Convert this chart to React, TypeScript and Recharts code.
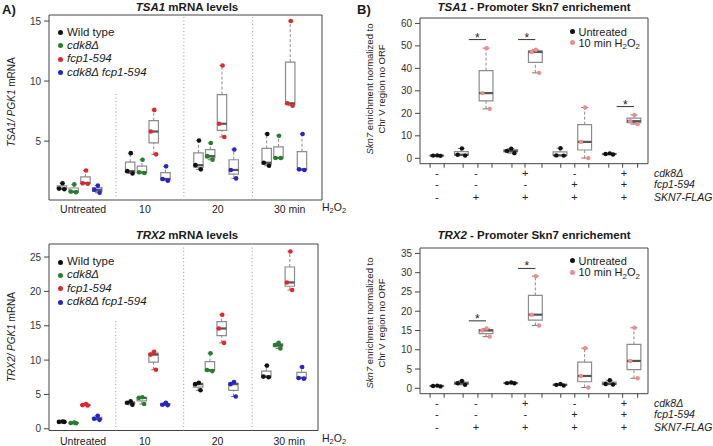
import React from 'react'
import { ScatterChart, Scatter, XAxis, YAxis, ReferenceArea, ReferenceLine } from 'recharts'

// ---------- A) mRNA levels: 3 replicates per strain and time point ----------
const timePoints = ['Untreated', '10', '20', '30 min']
const strains = ['Wild type', 'cdk8Δ', 'fcp1-594', 'cdk8Δ fcp1-594']

const tsa1WildType = [[1.5, 1.05, 1.0], [4.0, 2.5, 2.3], [5.05, 3.0, 2.65], [5.6, 3.2, 2.95]]
const tsa1Cdk8 = [[1.4, 0.8, 0.75], [3.45, 2.4, 2.35], [4.85, 3.75, 3.45], [5.45, 3.6, 3.6]]
const tsa1Fcp1 = [[2.55, 1.5, 1.45], [7.6, 5.8, 3.9], [11.3, 6.45, 5.35], [15.0, 8.15, 7.95]]
const tsa1Double = [[1.3, 0.95, 0.7], [2.9, 1.85, 1.7], [4.3, 2.6, 1.9], [5.6, 2.65, 2.6]]

const trx2WildType = [[1.05, 1.0, 1.0], [4.0, 3.8, 3.5], [6.7, 6.5, 5.6], [9.2, 7.6, 7.5]]
const trx2Cdk8 = [[0.9, 0.85, 0.8], [4.6, 4.5, 3.6], [11.0, 8.55, 8.4], [12.5, 12.2, 11.7]]
const trx2Fcp1 = [[3.6, 3.45, 3.4], [11.2, 10.8, 8.6], [16.6, 14.6, 12.5], [25.8, 21.3, 20.2]]
const trx2Double = [[1.9, 1.45, 1.3], [3.8, 3.5, 3.45], [6.8, 6.5, 4.7], [9.0, 7.4, 7.3]]

const tsa1Ticks = [5, 10, 15]
const trx2Ticks = [0, 5, 10, 15, 20, 25]

// ---------- B) Skn7 ChIP: untreated vs 10 min H2O2 ----------
const cdk8Row = ['-', '-', '+', '-', '+']
const fcp1Row = ['-', '-', '-', '+', '+']
const flagRow = ['-', '+', '+', '+', '+']
const rowNames = ['cdk8Δ', 'fcp1-594', 'SKN7-FLAG']

const tsa1ChipUntreated = [[1.3, 1.2, 1.1], [4.4, 1.6, 1.2], [4.3, 3.3, 2.3], [4.5, 1.3, 1.2], [2.2, 1.9, 1.7]]
const tsa1ChipH2O2 = [[], [49, 29, 22], [48.3, 47.3, 38], [22.6, 7.3, 0.1], [19.3, 16.5, 15.2]]
const tsa1Significant = [[1, 52.8], [2, 52.8], [4, 23]]

const trx2ChipUntreated = [[0.7, 0.6, 0.5], [1.9, 1.3, 0.9], [1.5, 1.35, 1.3], [1.1, 0.9, 0.7], [2.1, 1.1, 1.0]]
const trx2ChipH2O2 = [[], [15.5, 15.0, 13.4], [29.1, 19.1, 16.3], [10.4, 3.2, 0.2], [15.7, 7.1, 2.6]]
const trx2Significant = [[1, 17.5], [2, 31.1]]

const tsa1ChipTicks = [0, 10, 20, 30, 40, 50, 60]
const trx2ChipTicks = [0, 5, 10, 15, 20, 25, 30, 35]

// ---------- layout ----------
const FONT = '"Liberation Sans", Arial, Helvetica, sans-serif'
const strainColors = ['#111111', '#23802a', '#e3262a', '#2626c8']
const untreatedColor = '#111111'
const treatedColor = '#f08c8c'

const GAP = 5.8
const LABEL_X_A = [1.8, 7.05, 13.25, 19.35]
const SEP_X_A = [4.58, 10.36, 16.2]
const JITTER_A = [0.05, -0.25, 0.2]
const JITTER_B = [0.02, -0.15, 0.15]
const B_TICK_MARKS = [-0.27, 0.3, 1.07, 1.67, 2.24, 3.05, 3.58, 4.27, 5.03, 5.6, 6.17, 6.98, 7.54, 8.15]
const B_X_DOMAIN: [number, number] = [-0.68, 8.57]
const ROW_DY = [8.8, 20.5, 33]

function fivenum(values: number[]) {
  const x = [...values].sort((a, b) => a - b)
  const n = x.length
  const n4 = Math.floor((n + 3) / 2) / 2
  const d = [1, n4, (n + 1) / 2, n + 1 - n4, n]
  return d.map(di => 0.5 * (x[Math.floor(di) - 1] + x[Math.ceil(di) - 1]))
}

// R style box: dashed whiskers, staples, hinge box, thick median
function boxplot(id: string, x: number, values: number[], hw: number) {
  const [lo, q1, med, q3, hi] = fivenum(values)
  const wh = { stroke: '#8c8c8c', strokeWidth: 1, strokeDasharray: '3 2' }
  const st = { stroke: '#7a7a7a', strokeWidth: 1 }
  return [
    <ReferenceLine key={id + 'w1'} segment={[{ x, y: q3 }, { x, y: hi }]} {...wh} />,
    <ReferenceLine key={id + 'w2'} segment={[{ x, y: lo }, { x, y: q1 }]} {...wh} />,
    <ReferenceLine key={id + 's1'} segment={[{ x: x - hw / 2, y: hi }, { x: x + hw / 2, y: hi }]} {...st} />,
    <ReferenceLine key={id + 's2'} segment={[{ x: x - hw / 2, y: lo }, { x: x + hw / 2, y: lo }]} {...st} />,
    <ReferenceArea key={id + 'b'} x1={x - hw} x2={x + hw} y1={q1} y2={q3} fill="none" stroke="#8c8c8c" strokeWidth={1.2} />,
    <ReferenceLine key={id + 'm'} segment={[{ x: x - hw, y: med }, { x: x + hw, y: med }]} stroke="#555" strokeWidth={2.2} />,
  ]
}

const dot = (color: string, r: number) => (p: any) => <circle cx={p.cx} cy={p.cy} r={r} fill={color} />

function Txt({ x, y, size = 11, bold = false, italic = false, anchor = 'start', rotate = false, children }: any) {
  const tx = anchor === 'middle' ? '-50%' : anchor === 'end' ? '-100%' : '0'
  return (
    <div
      style={{
        position: 'absolute', left: x, top: y, fontSize: size, lineHeight: 1,
        fontWeight: bold ? 'bold' : 'normal', fontStyle: italic ? 'italic' : 'normal',
        color: '#1a1a1a', whiteSpace: 'nowrap',
        transform: rotate ? 'translate(-50%, -50%) rotate(-90deg)' : `translate(${tx}, -50%)`,
      }}
    >
      {children}
    </div>
  )
}

const Sub = ({ children }: any) => (
  <span style={{ fontSize: '0.72em', position: 'relative', top: '0.28em' }}>{children}</span>
)
const H2O2 = () => <>H<Sub>2</Sub>O<Sub>2</Sub></>

function Dot({ x, y, color }: any) {
  return (
    <div style={{ position: 'absolute', left: x - 2.5, top: y - 2.5, width: 5, height: 5, borderRadius: '50%', background: color }} />
  )
}

function MrnaPanel({ series, top, height, marginTop, right, axisH, labelDy, xMax, yDomain, yTicks, firstSepTop }: any) {
  const xDomain: [number, number] = [-1.1, xMax]
  return (
    <div style={{ position: 'absolute', left: 0, top }}>
      <ScatterChart width={360} height={height} margin={{ top: marginTop, right, bottom: 0, left: 0 }}>
        <XAxis
          type="number" dataKey="x" domain={xDomain} allowDataOverflow ticks={LABEL_X_A} interval={0}
          tickLine={false} axisLine={false} tickSize={0} tickMargin={0} height={axisH}
          tick={(p: any) => (
            <text x={p.x} y={p.y + labelDy} textAnchor="middle" dominantBaseline="central" fontSize={10.5} fill="#222">
              {timePoints[p.index]}
            </text>
          )}
        />
        <YAxis
          type="number" dataKey="y" domain={yDomain} allowDataOverflow ticks={yTicks} interval={0} width={49}
          axisLine={false} tickLine={{ stroke: '#444' }} tickSize={5} tickMargin={3}
          tick={{ fontSize: 10, fill: '#333' }}
        />
        <ReferenceArea x1={xDomain[0]} x2={xDomain[1]} y1={yDomain[0]} y2={yDomain[1]} fill="none" stroke="#444" ifOverflow="visible" />
        {SEP_X_A.map((sx, i) => (
          <ReferenceLine
            key={'sep' + i}
            segment={[{ x: sx, y: yDomain[0] }, { x: sx, y: i === 0 ? firstSepTop : yDomain[1] }]}
            stroke="#aaa" strokeWidth={1.2} strokeDasharray="1 2.5" ifOverflow="visible"
          />
        ))}
        {series.map((reps: number[][], s: number) =>
          reps.map((vals, g) => boxplot(`a${s}-${g}`, g * GAP + s, vals, 0.4))
        )}
        {series.map((reps: number[][], s: number) => (
          <Scatter
            key={'pts' + s}
            isAnimationActive={false}
            data={reps.flatMap((vals, g) => vals.map((v, i) => ({ x: g * GAP + s + JITTER_A[i], y: v })))}
            shape={dot(strainColors[s], 2.3)}
          />
        ))}
      </ScatterChart>
    </div>
  )
}

function ChipPanel({ untreated, treated, significant, top, height, marginTop, axisH, yDomain, yTicks }: any) {
  const blackX = (g: number) => (g === 0 ? 0 : 2 * g - 1)
  const pinkX = (g: number) => 2 * g
  const colX = (g: number) => (g === 0 ? 0.001 : 2 * g - 0.41)
  const cols = cdk8Row.map((_, g) => colX(g))
  const rows = [cdk8Row, fcp1Row, flagRow]
  return (
    <div style={{ position: 'absolute', left: 355, top }}>
      <ScatterChart width={358} height={height} margin={{ top: marginTop, right: 65, bottom: 0, left: 0 }}>
        <XAxis
          type="number" dataKey="x" domain={B_X_DOMAIN} allowDataOverflow ticks={[...B_TICK_MARKS, ...cols]} interval={0}
          tickLine={false} axisLine={false} tickSize={0} tickMargin={0} height={axisH}
          tick={(p: any) => {
            const g = cols.findIndex(c => Math.abs(c - p.payload.value) < 1e-9)
            if (g < 0) return <line x1={p.x} x2={p.x} y1={p.y} y2={p.y + 4} stroke="#444" />
            return (
              <g>
                {rows.map((r, i) => (
                  <text key={i} x={p.x} y={p.y + ROW_DY[i]} textAnchor="middle" dominantBaseline="central" fontSize={11} fill="#222">
                    {r[g]}
                  </text>
                ))}
              </g>
            )
          }}
        />
        <YAxis
          type="number" dataKey="y" domain={yDomain} allowDataOverflow ticks={yTicks} interval={0} width={65}
          axisLine={false} tickLine={{ stroke: '#444' }} tickSize={5} tickMargin={3}
          tick={{ fontSize: 10, fill: '#333' }}
        />
        <ReferenceArea x1={B_X_DOMAIN[0]} x2={B_X_DOMAIN[1]} y1={yDomain[0]} y2={yDomain[1]} fill="none" stroke="#444" ifOverflow="visible" />
        {untreated.map((vals: number[], g: number) => boxplot(`u${g}`, blackX(g), vals, 0.28))}
        {treated.map((vals: number[], g: number) => (vals.length ? boxplot(`t${g}`, pinkX(g), vals, 0.28) : null))}
        {significant.map(([g, h]: number[]) => (
          <ReferenceLine
            key={'sig' + g}
            segment={[{ x: blackX(g) + 0.3, y: h }, { x: blackX(g) + 1.0, y: h }]}
            stroke="#333" strokeWidth={1}
          />
        ))}
        <Scatter
          isAnimationActive={false}
          data={untreated.flatMap((vals: number[], g: number) => vals.map((v, i) => ({ x: blackX(g) + JITTER_B[i], y: v })))}
          shape={dot(untreatedColor, 2.2)}
        />
        <Scatter
          isAnimationActive={false}
          data={treated.flatMap((vals: number[], g: number) => vals.map((v, i) => ({ x: pinkX(g) + JITTER_B[i], y: v })))}
          shape={dot(treatedColor, 2.2)}
        />
        <Scatter
          isAnimationActive={false}
          data={significant.map(([g, h]: number[]) => ({ x: blackX(g) + 0.65, y: h }))}
          shape={(p: any) => (
            <text x={p.cx} y={p.cy + 2} textAnchor="middle" fontSize={12} fill="#222">*</text>
          )}
        />
      </ScatterChart>
    </div>
  )
}

function MrnaLegend({ rowsY }: { rowsY: number[] }) {
  return (
    <>
      {strains.map((name, s) => (
        <React.Fragment key={name}>
          <Dot x={60.7} y={rowsY[s]} color={strainColors[s]} />
          <Txt x={67} y={rowsY[s]} size={11.5} italic={s > 0}>{name}</Txt>
        </React.Fragment>
      ))}
    </>
  )
}

function ChipLegend({ rowsY }: { rowsY: number[] }) {
  return (
    <>
      <Dot x={572} y={rowsY[0]} color={untreatedColor} />
      <Txt x={578.5} y={rowsY[0]} size={11}>Untreated</Txt>
      <Dot x={572} y={rowsY[1]} color={treatedColor} />
      <Txt x={578.5} y={rowsY[1]} size={11}>10 min <H2O2 /></Txt>
    </>
  )
}

function ChipYLabel({ cy }: { cy: number }) {
  return (
    <>
      <Txt x={370} y={cy} size={9.5} rotate><i>Skn7</i> enrichment normalized to</Txt>
      <Txt x={381.5} y={cy} size={9.5} rotate>Chr V region no ORF</Txt>
    </>
  )
}

function RowNames({ ys }: { ys: number[] }) {
  return (
    <>
      {rowNames.map((n, i) => (
        <Txt key={n} x={654} y={ys[i]} size={10.5} italic>{n}</Txt>
      ))}
    </>
  )
}

export default function App() {
  return (
    <div style={{ position: 'absolute', left: 0, top: 0, width: 713, height: 446, background: '#fff', fontFamily: FONT, overflow: 'hidden' }}>
      <MrnaPanel
        series={[tsa1WildType, tsa1Cdk8, tsa1Fcp1, tsa1Double]}
        top={0} height={220} marginTop={15} right={38} axisH={20} labelDy={8.5}
        xMax={22.1} yDomain={[0.1, 15.5]} yTicks={tsa1Ticks} firstSepTop={9}
      />
      <MrnaPanel
        series={[trx2WildType, trx2Cdk8, trx2Fcp1, trx2Double]}
        top={220} height={226} marginTop={24} right={42} axisH={15.5} labelDy={10}
        xMax={21.8} yDomain={[-0.25, 26.9]} yTicks={trx2Ticks} firstSepTop={15.9}
      />
      <ChipPanel
        untreated={tsa1ChipUntreated} treated={tsa1ChipH2O2} significant={tsa1Significant}
        top={0} height={220} marginTop={18} axisH={56.3} yDomain={[-2.4, 62.4]} yTicks={tsa1ChipTicks}
      />
      <ChipPanel
        untreated={trx2ChipUntreated} treated={trx2ChipH2O2} significant={trx2Significant}
        top={220} height={226} marginTop={28} axisH={52.3} yDomain={[-1.4, 36.4]} yTicks={trx2ChipTicks}
      />

      {/* panel A texts */}
      <Txt x={2} y={9} size={13} bold>A)</Txt>
      <Txt x={187} y={8} size={11.5} bold anchor="middle"><i>TSA1</i> mRNA levels</Txt>
      <Txt x={187} y={236} size={11.5} bold anchor="middle"><i>TRX2</i> mRNA levels</Txt>
      <MrnaLegend rowsY={[32.5, 45.5, 59, 72.5]} />
      <MrnaLegend rowsY={[262, 275, 288.5, 302]} />
      <Txt x={12} y={102} size={10} rotate><i>TSA1/ PGK1</i> mRNA</Txt>
      <Txt x={12} y={337} size={10} rotate><i>TRX2/ PGK1</i> mRNA</Txt>
      <Txt x={322} y={207} size={10.5}><H2O2 /></Txt>
      <Txt x={322} y={438} size={10.5}><H2O2 /></Txt>

      {/* panel B texts */}
      <Txt x={357} y={9} size={13} bold>B)</Txt>
      <Txt x={534} y={8} size={11.5} bold anchor="middle"><i>TSA1</i> - Promoter Skn7 enrichement</Txt>
      <Txt x={534} y={236} size={11.5} bold anchor="middle"><i>TRX2</i> - Promoter Skn7 enrichement</Txt>
      <ChipLegend rowsY={[31.7, 42.7]} />
      <ChipLegend rowsY={[260.7, 272.3]} />
      <ChipYLabel cy={89} />
      <ChipYLabel cy={323} />
      <RowNames ys={[172.5, 184.2, 196.7]} />
      <RowNames ys={[402.7, 414, 426.7]} />
    </div>
  )
}
